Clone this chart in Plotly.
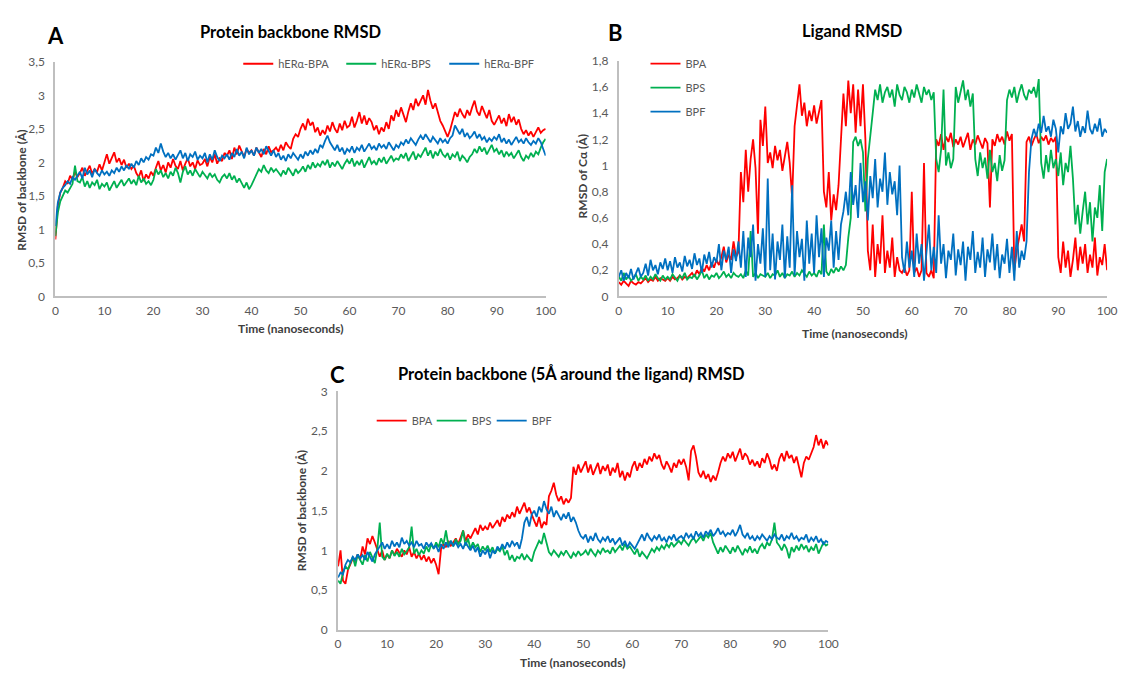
import plotly.graph_objects as go

W, H = 1126, 678

# ---------------- data (RMSD in Å, sampled every 0.5 ns, 0..100 ns) ----------------
time_step_ns = 0.5

# Panel A : Protein backbone RMSD
a_bpa = [
    0.85, 1.35, 1.55, 1.62, 1.72, 1.68, 1.80, 1.74, 1.86, 1.78,
    1.84, 1.92, 1.80, 1.88, 1.95, 1.83, 1.90, 1.86, 1.97, 1.88,
    2.02, 2.12, 1.98, 2.08, 2.15, 2.00, 2.06, 1.96, 2.04, 1.92,
    1.98, 1.90, 1.95, 1.84, 1.78, 1.88, 1.72, 1.82, 1.76, 1.86,
    1.80, 1.92, 2.02, 1.88, 1.96, 1.85, 2.00, 1.92, 2.05, 1.95,
    1.90, 2.02, 1.88, 1.98, 2.06, 1.94, 2.00, 1.90, 2.03, 1.96,
    1.98, 2.05, 1.94, 2.08, 2.00, 2.12, 1.98, 2.06, 2.02, 2.14,
    2.10, 2.18, 2.05, 2.22, 2.12, 2.25, 2.15, 2.08, 2.20, 2.14,
    2.18, 2.10, 2.22, 2.14, 2.08, 2.20, 2.12, 2.24, 2.15, 2.18,
    2.22, 2.16, 2.26, 2.18, 2.30, 2.24, 2.20, 2.35, 2.42, 2.38,
    2.50, 2.58, 2.48, 2.65, 2.55, 2.60, 2.45, 2.52, 2.40, 2.48,
    2.42, 2.55, 2.46, 2.60, 2.50, 2.44, 2.58, 2.48, 2.62, 2.52,
    2.55, 2.68, 2.52, 2.62, 2.75, 2.58, 2.70, 2.56, 2.66, 2.60,
    2.48, 2.55, 2.42, 2.52, 2.46, 2.60, 2.50, 2.70, 2.62, 2.78,
    2.68, 2.82, 2.72, 2.60, 2.76, 2.88, 2.78, 2.95, 2.84, 2.92,
    3.00, 2.86, 3.08, 2.92, 2.80, 2.88, 2.74, 2.62, 2.55, 2.45,
    2.38, 2.48, 2.62, 2.75, 2.68, 2.80, 2.72, 2.66, 2.78, 2.70,
    2.82, 2.92, 2.76, 2.70, 2.84, 2.74, 2.66, 2.78, 2.62, 2.56,
    2.62, 2.70, 2.58, 2.66, 2.54, 2.72, 2.60, 2.68, 2.56, 2.64,
    2.50, 2.42, 2.48, 2.40, 2.46, 2.38, 2.45, 2.52, 2.44, 2.48,
    2.50,
]
a_bps = [
    0.90, 1.25, 1.42, 1.50, 1.58, 1.55, 1.62, 1.68, 1.95, 1.72,
    1.70, 1.78, 1.64, 1.72, 1.62, 1.70, 1.66, 1.74, 1.60, 1.68,
    1.64, 1.70, 1.58, 1.66, 1.72, 1.62, 1.68, 1.74, 1.65, 1.70,
    1.76, 1.68, 1.74, 1.66, 1.80, 1.70, 1.76, 1.68, 1.72, 1.66,
    1.74, 1.90, 1.82, 1.88, 1.78, 1.84, 1.76, 1.86, 1.80, 1.92,
    1.84, 1.70, 1.86, 1.94, 1.82, 1.88, 1.80, 1.90, 1.84, 1.78,
    1.86, 1.80, 1.76, 1.84, 1.78, 1.82, 1.74, 1.70, 1.78, 1.82,
    1.76, 1.84, 1.74, 1.80, 1.70, 1.76, 1.68, 1.62, 1.70, 1.60,
    1.66, 1.74, 1.82, 1.90, 1.86, 1.96, 1.88, 1.84, 1.92, 1.86,
    1.90, 1.84, 1.80, 1.88, 1.82, 1.92, 1.86, 1.80, 1.90, 1.84,
    1.88, 1.94, 1.86, 1.96, 1.90, 2.00, 1.92, 1.98, 1.94, 2.02,
    1.96, 2.04, 1.92, 2.00, 1.94, 2.02, 1.96, 1.90, 1.98, 2.04,
    1.98, 2.06, 1.94, 2.02, 1.96, 2.04, 1.92, 2.00, 2.08, 1.98,
    2.02, 1.96, 2.06, 2.00, 2.08, 1.98, 2.04, 2.10, 2.02, 2.06,
    2.04, 2.12, 2.06, 2.14, 2.02, 2.10, 2.16, 2.04, 2.12, 2.08,
    2.14, 2.22, 2.10, 2.18, 2.06, 2.16, 2.10, 2.20, 2.12, 2.08,
    2.14, 2.04, 2.12, 2.08, 2.16, 2.02, 2.10, 2.06, 2.00, 2.08,
    2.12, 2.20, 2.14, 2.24, 2.16, 2.22, 2.12, 2.18, 2.26, 2.16,
    2.20, 2.12, 2.18, 2.08, 2.16, 2.10, 2.14, 2.06, 2.12, 2.18,
    2.08, 2.02, 2.10, 2.06, 2.14, 2.08, 2.16, 2.12, 2.22, 2.30,
    2.35,
]
a_bpf = [
    1.05, 1.40, 1.55, 1.62, 1.66, 1.72, 1.68, 1.78, 1.74, 1.80,
    1.86, 1.76, 1.92, 1.82, 1.88, 1.78, 1.90, 1.84, 1.80, 1.88,
    1.82, 1.86, 1.80, 1.88, 1.84, 1.92, 1.86, 1.94, 1.88, 1.96,
    1.90, 1.98, 1.92, 2.02, 1.96, 2.06, 2.00, 2.08, 2.04, 2.12,
    2.10, 2.22, 2.14, 2.28, 2.16, 2.08, 2.14, 2.06, 2.12, 2.04,
    2.10, 2.18, 2.06, 2.14, 2.02, 2.12, 2.08, 2.16, 2.04, 2.10,
    2.06, 2.14, 2.00, 2.12, 2.04, 2.18, 2.08, 2.02, 2.10, 2.06,
    2.12, 2.04, 2.14, 2.08, 2.20, 2.10, 2.16, 2.06, 2.22, 2.12,
    2.18, 2.10, 2.22, 2.14, 2.20, 2.12, 2.24, 2.16, 2.10, 2.18,
    2.08, 2.14, 2.04, 2.10, 2.02, 2.12, 2.06, 2.14, 2.08, 2.04,
    2.12, 2.06, 2.16, 2.10, 2.18, 2.12, 2.20, 2.14, 2.26, 2.22,
    2.32, 2.40, 2.30, 2.24, 2.18, 2.26, 2.16, 2.22, 2.12, 2.20,
    2.16, 2.24, 2.14, 2.22, 2.18, 2.26, 2.16, 2.22, 2.28, 2.20,
    2.24, 2.18, 2.28, 2.22, 2.26, 2.20, 2.30, 2.24, 2.18, 2.26,
    2.22, 2.30, 2.26, 2.34, 2.28, 2.36, 2.30, 2.26, 2.34, 2.40,
    2.34, 2.42, 2.36, 2.30, 2.38, 2.32, 2.28, 2.36, 2.30, 2.34,
    2.28, 2.36, 2.40, 2.55, 2.48, 2.42, 2.50, 2.38, 2.44, 2.36,
    2.40, 2.46, 2.36, 2.42, 2.34, 2.38, 2.30, 2.36, 2.32, 2.38,
    2.34, 2.42, 2.30, 2.36, 2.28, 2.34, 2.26, 2.32, 2.38, 2.30,
    2.34, 2.28, 2.36, 2.30, 2.26, 2.32, 2.28, 2.36, 2.30, 2.20,
    2.10,
]

# Panel B : Ligand RMSD
b_bpa = [
    0.11, 0.09, 0.12, 0.10, 0.08, 0.12, 0.10, 0.09, 0.11, 0.10,
    0.12, 0.14, 0.11, 0.13, 0.12, 0.15, 0.12, 0.14, 0.13, 0.12,
    0.14, 0.12, 0.15, 0.13, 0.14, 0.16, 0.13, 0.15, 0.14, 0.16,
    0.18, 0.15, 0.20, 0.17, 0.22, 0.19, 0.24, 0.20, 0.26, 0.22,
    0.28, 0.24, 0.30, 0.38, 0.26, 0.32, 0.28, 0.42, 0.30, 0.34,
    0.95, 0.72, 1.12, 0.80, 1.05, 1.20, 0.98, 0.48, 1.35, 1.15,
    1.45, 1.02, 1.10, 0.98, 1.15, 1.04, 1.12, 0.96, 1.08, 1.18,
    1.02, 0.75, 1.30, 1.45, 1.62, 1.38, 1.48, 1.30, 1.42, 1.34,
    1.46, 1.32, 1.40, 1.50, 0.80, 0.68, 0.95, 0.58, 0.78, 0.66,
    0.85, 1.20, 1.55, 1.30, 1.65, 1.40, 1.62, 1.25, 1.58, 1.30,
    1.62, 1.20, 0.35, 0.20, 0.55, 0.15, 0.40, 0.25, 0.62, 0.18,
    0.35, 0.22, 0.45, 0.15, 0.30, 0.20, 0.18, 0.22, 0.16, 0.20,
    0.80, 0.18, 0.22, 0.15, 0.20, 1.02, 0.18, 0.15, 0.20, 0.14,
    1.20, 1.15, 1.24, 1.12, 1.22, 1.18, 1.25, 1.14, 1.20, 1.16,
    1.22, 1.14, 1.19, 1.25, 1.12, 1.20, 1.16, 1.23, 1.18, 1.13,
    1.21, 1.17, 0.68, 1.20, 1.15, 1.24, 1.18, 1.22, 1.16, 1.26,
    1.19, 1.24, 0.20, 0.35, 0.45, 0.55, 0.42, 1.18, 1.22, 1.15,
    1.20, 1.24, 1.17, 1.22, 1.19, 1.23, 1.16, 1.21, 1.18, 1.22,
    0.30, 0.18, 0.42, 0.22, 0.35, 0.15, 0.28, 0.45, 0.20, 0.38,
    0.25, 0.40, 0.18, 0.32, 0.22, 0.45, 0.16, 0.30, 0.24, 0.40,
    0.20,
]
b_bps = [
    0.15, 0.12, 0.18, 0.13, 0.16, 0.12, 0.14, 0.17, 0.12, 0.15,
    0.13, 0.16, 0.12, 0.15, 0.13, 0.17, 0.14, 0.12, 0.16, 0.13,
    0.15, 0.13, 0.17, 0.14, 0.12, 0.16, 0.14, 0.18, 0.13, 0.15,
    0.14, 0.17, 0.13, 0.16, 0.20, 0.14, 0.17, 0.13, 0.16, 0.15,
    0.18, 0.14, 0.16, 0.19, 0.15, 0.17, 0.14, 0.18, 0.16, 0.15,
    0.17, 0.14, 0.20, 0.16, 0.50, 0.15, 0.18, 0.14, 0.17, 0.16,
    0.15, 0.18, 0.14, 0.17, 0.16, 0.20, 0.15, 0.18, 0.14, 0.17,
    0.16, 0.19, 0.15, 0.18, 0.16, 0.20, 0.17, 0.15, 0.19, 0.16,
    0.18, 0.15, 0.20, 0.17, 0.55, 0.19, 0.16, 0.21, 0.18, 0.22,
    0.19, 0.23, 0.20, 0.24, 0.45, 0.60, 1.18, 1.22, 1.15, 1.20,
    1.10, 0.65, 1.05, 1.25, 1.40, 1.58, 1.50, 1.62, 1.48, 1.56,
    1.60, 1.52, 1.58, 1.45, 1.62, 1.54, 1.50, 1.60, 1.56, 1.48,
    1.58, 1.52, 1.62, 1.55, 1.48, 1.60, 1.54, 1.58, 1.50, 1.56,
    1.05, 0.95, 1.12, 1.58, 1.00, 1.10, 0.98, 1.05, 1.60, 1.48,
    1.56, 1.65, 1.50, 1.58, 1.45, 1.55, 1.05, 0.92, 1.10, 0.98,
    1.06, 0.90, 1.12, 0.95, 1.02, 0.88, 1.08, 0.96, 1.04, 1.50,
    1.58, 1.52, 1.60, 1.48, 1.56, 1.62, 1.54, 1.50, 1.58, 1.55,
    1.60, 1.52, 1.66, 1.02, 0.90, 1.08, 0.95, 1.12, 0.98, 1.05,
    0.92, 1.10, 0.85, 1.02, 0.95, 1.15, 0.90, 0.55, 0.70, 0.48,
    0.65, 0.80, 0.55, 0.72, 0.42, 0.68, 0.60, 0.85, 0.50, 0.95,
    1.05,
]
b_bpf = [
    0.15, 0.20, 0.12, 0.18, 0.14, 0.21, 0.13, 0.17, 0.22, 0.15,
    0.18, 0.25, 0.16, 0.28, 0.20, 0.24, 0.17, 0.26, 0.21, 0.29,
    0.20, 0.27, 0.18, 0.30, 0.22, 0.26, 0.19, 0.31, 0.23, 0.28,
    0.21, 0.33, 0.24, 0.29, 0.18, 0.32, 0.25, 0.34, 0.22, 0.30,
    0.26, 0.40, 0.20, 0.35, 0.28, 0.38, 0.18, 0.36, 0.27, 0.42,
    0.22, 0.50, 0.15, 0.45, 0.30, 0.55, 0.12, 0.40, 0.25, 0.52,
    0.15, 0.90, 0.20, 0.48, 0.13, 0.42, 0.28, 0.55, 0.14, 0.46,
    0.22, 0.85, 0.16, 0.50, 0.30, 0.44, 0.12, 0.58, 0.25, 0.48,
    0.18, 0.62, 0.30, 0.52, 0.15, 0.45, 0.35, 0.58, 0.22, 0.50,
    0.28, 0.55, 0.65, 0.80, 0.62, 0.95, 0.70, 0.85, 0.60, 1.02,
    0.72, 0.88, 0.58, 0.92, 0.75, 1.05, 0.68, 0.90, 0.80, 1.10,
    0.70, 0.95, 0.78, 0.88, 0.62, 1.00, 0.30, 0.18, 0.42, 0.22,
    0.35, 0.15, 0.48, 0.25, 0.40, 0.12, 0.32, 0.55, 0.20, 0.38,
    0.18, 0.62, 0.25, 0.40, 0.14, 0.35, 0.28, 0.48, 0.16, 0.36,
    0.24, 0.42, 0.12, 0.38, 0.28, 0.50, 0.18, 0.34, 0.22, 0.45,
    0.15, 0.36, 0.26, 0.48, 0.20, 0.40, 0.14, 0.32, 0.25, 0.44,
    0.18, 0.38, 0.12, 0.50, 0.22, 0.35, 0.28, 0.42, 0.95, 1.20,
    1.28, 1.22, 1.32, 1.25, 1.38, 1.26, 1.30, 1.22, 1.35, 1.28,
    1.10, 1.30, 1.24, 1.40, 1.28, 1.32, 1.45, 1.26, 1.34, 1.22,
    1.30, 1.25, 1.42, 1.28, 1.24, 1.32, 1.26, 1.36, 1.22, 1.28,
    1.25,
]

# Panel C : Protein backbone (5 Å around the ligand) RMSD
c_bpa = [
    0.80, 1.00, 0.62, 0.58, 0.75, 0.82, 0.90, 0.86, 0.95, 0.88,
    1.05, 0.95, 1.15, 1.08, 1.18, 1.10, 1.02, 0.92, 1.00, 0.88,
    0.95, 0.90, 1.00, 0.94, 1.02, 0.96, 0.92, 1.00, 0.95, 1.04,
    0.92, 0.98, 0.90, 0.96, 0.88, 0.94, 0.86, 0.92, 0.84, 0.90,
    0.82, 0.70, 1.02, 1.08, 1.04, 1.12, 1.06, 1.10, 1.15, 1.08,
    1.18, 1.25, 1.12, 1.20, 1.15, 1.22, 1.28, 1.20, 1.32, 1.25,
    1.30, 1.26, 1.35, 1.28, 1.33, 1.38, 1.30, 1.42, 1.36, 1.45,
    1.40, 1.48, 1.42, 1.55, 1.46, 1.52, 1.60, 1.48, 1.54, 1.45,
    1.38, 1.30, 1.42, 1.28, 1.36, 1.32, 1.68, 1.75, 1.85, 1.70,
    1.62, 1.68, 1.58, 1.65, 1.60, 1.66, 2.05, 1.95, 2.08, 1.98,
    2.05, 2.12, 1.98, 2.08, 1.95, 2.02, 2.10, 1.96, 2.06, 2.00,
    2.08, 1.94, 2.04, 1.98, 2.10, 1.92, 2.00, 1.88, 1.98, 1.92,
    2.05, 2.12, 2.00, 2.10, 2.04, 2.15, 2.08, 2.18, 2.12, 2.22,
    2.15, 2.20, 2.08, 2.02, 2.12, 2.06, 1.98, 2.10, 2.04, 2.14,
    2.08, 2.15, 2.05, 1.88, 2.25, 2.32, 2.18, 1.98, 1.92, 2.00,
    1.90, 1.96, 1.86, 1.94, 1.88, 1.98, 2.10, 2.18, 2.12, 2.22,
    2.16, 2.24, 2.12, 2.20, 2.28, 2.14, 2.22, 2.18, 2.08, 2.14,
    2.06, 2.12, 2.04, 2.16, 2.10, 2.22, 2.14, 2.02, 2.08, 2.00,
    2.15, 2.22, 2.12, 2.25, 2.16, 2.20, 2.10, 2.18, 2.05, 1.92,
    2.10, 2.18, 2.14, 2.22, 2.30, 2.45, 2.32, 2.40, 2.28, 2.38,
    2.32,
]
c_bps = [
    0.62, 0.58, 0.72, 0.80, 0.76, 0.85, 0.92, 0.80, 0.95, 0.88,
    0.82, 0.94, 0.86, 0.98, 0.90, 0.84, 1.02, 1.35, 0.92, 0.88,
    0.96, 0.90, 1.00, 0.93, 0.98, 0.92, 1.02, 0.95, 0.99, 1.04,
    1.30, 0.96, 1.02, 0.94, 1.00, 0.96, 1.05, 0.98, 1.08, 1.02,
    1.10, 1.04, 1.15, 1.08, 1.25, 1.06, 1.12, 1.05, 1.14, 1.08,
    1.12, 1.25, 1.06, 1.15, 1.02, 1.10, 1.04, 1.08, 0.98, 1.05,
    1.00, 1.06, 0.98, 1.04, 0.96, 1.02, 0.99, 1.05, 0.94, 1.00,
    0.88, 0.94, 0.86, 0.92, 0.90, 0.96, 0.88, 0.94, 0.90, 0.86,
    0.98, 1.05, 1.12, 1.08, 1.22, 1.10, 0.98, 0.94, 1.00, 0.96,
    0.92, 0.98, 0.94, 1.00, 0.95, 0.90, 0.97, 0.93, 0.99, 0.94,
    0.96, 1.00, 0.94, 1.02, 0.97, 0.93, 1.00, 0.96, 1.03, 0.98,
    1.00, 0.96, 1.04, 0.98, 1.02, 1.06, 1.00, 1.08, 1.02, 1.05,
    1.00, 0.95, 1.02, 0.92, 0.98, 0.94, 0.90, 0.96, 1.02, 0.98,
    1.04, 1.00, 1.06, 1.02, 1.08, 1.04, 1.10, 1.05, 1.08, 1.12,
    1.08, 1.14, 1.10, 1.06, 1.12, 1.16, 1.10, 1.14, 1.18, 1.12,
    1.20, 1.16, 1.22, 1.10, 1.02, 0.96, 1.04, 0.98, 1.06, 1.00,
    0.96, 1.04, 0.98, 1.06, 1.00, 0.94, 1.02, 0.98, 1.05, 0.97,
    1.02, 0.96, 1.04, 1.08, 1.02, 1.10, 1.06, 1.14, 1.35, 1.10,
    1.06, 1.00, 1.08, 1.02, 0.90, 1.04, 0.98, 1.06, 1.00, 1.08,
    1.02, 1.06, 0.98, 1.04, 1.00, 1.08, 0.96, 1.04, 1.10, 1.06,
    1.08,
]
c_bpf = [
    0.66, 0.72, 0.70, 0.82, 0.88, 0.85, 0.92, 0.88, 0.95, 0.90,
    0.94, 0.88, 0.98, 0.92, 0.86, 0.95, 1.00, 1.06, 1.10, 1.02,
    1.08, 1.02, 1.12, 1.05, 1.10, 1.04, 1.16, 1.08, 1.12, 1.06,
    1.10, 1.04, 1.12, 1.06, 1.08, 1.02, 1.10, 1.05, 1.09, 1.03,
    1.06, 0.98, 1.08, 1.02, 1.10, 1.04, 1.12, 1.06, 1.10, 1.04,
    1.08, 1.02, 1.10, 1.05, 1.00, 1.06, 0.98, 1.04, 0.92, 1.00,
    0.95, 1.02, 0.90, 1.00, 0.96, 1.05, 1.00, 1.08, 1.02, 1.10,
    1.04, 1.12, 1.06, 1.10, 1.02, 1.15, 1.35, 1.42, 1.30, 1.45,
    1.50, 1.42, 1.55, 1.48, 1.62, 1.52, 1.46, 1.55, 1.42, 1.50,
    1.44, 1.38, 1.46, 1.40, 1.48, 1.36, 1.42, 1.35, 1.25, 1.18,
    1.15, 1.20, 1.10, 1.18, 1.12, 1.22, 1.14, 1.10, 1.16, 1.12,
    1.18, 1.10, 1.15, 1.08, 1.12, 1.16, 1.06, 1.12, 1.04, 1.10,
    1.06, 1.02, 1.08, 1.14, 1.20, 1.12, 1.22, 1.16, 1.12, 1.18,
    1.14, 1.20, 1.12, 1.16, 1.10, 1.18, 1.14, 1.20, 1.12, 1.16,
    1.18, 1.14, 1.22, 1.16, 1.20, 1.14, 1.24, 1.18, 1.22, 1.16,
    1.24, 1.20, 1.26, 1.18, 1.22, 1.28, 1.20, 1.24, 1.18, 1.22,
    1.20, 1.26, 1.18, 1.24, 1.32, 1.20, 1.16, 1.22, 1.14, 1.18,
    1.12, 1.18, 1.14, 1.20, 1.16, 1.12, 1.18, 1.14, 1.20, 1.16,
    1.14, 1.20, 1.12, 1.18, 1.15, 1.22, 1.14, 1.18, 1.12, 1.16,
    1.14, 1.20, 1.10, 1.16, 1.12, 1.18, 1.10, 1.14, 1.08, 1.12,
    1.10,
]

# tick values / labels (comma decimal as in the original)
x_ticks = [0, 10, 20, 30, 40, 50, 60, 70, 80, 90, 100]
a_yticks = [0, 0.5, 1, 1.5, 2, 2.5, 3, 3.5]
a_ylabels = ["0", "0,5", "1", "1,5", "2", "2,5", "3", "3,5"]
b_yticks = [0, 0.2, 0.4, 0.6, 0.8, 1.0, 1.2, 1.4, 1.6, 1.8]
b_ylabels = ["0", "0,2", "0,4", "0,6", "0,8", "1", "1,2", "1,4", "1,6", "1,8"]
c_yticks = [0, 0.5, 1, 1.5, 2, 2.5, 3]
c_ylabels = ["0", "0,5", "1", "1,5", "2", "2,5", "3"]

a_names = ["hERα-BPA", "hERα-BPS", "hERα-BPF"]
bc_names = ["BPA", "BPS", "BPF"]
colors = ["#ff0000", "#00b050", "#0070c0"]

# ---------------- helpers ----------------
def px(x):
    return x / W

def py(y):
    return 1 - y / H

def times(vals):
    return [i * time_step_ns for i in range(len(vals))]

FONT = "Lato"
TICK_COLOR = "#595959"
AXIS_LINE = "#bfbfbf"

fig = go.Figure()

panels = [
    ("x", "y", [a_bpa, a_bps, a_bpf], a_names, "legend"),
    ("x2", "y2", [b_bpa, b_bps, b_bpf], bc_names, "legend2"),
    ("x3", "y3", [c_bpa, c_bps, c_bpf], bc_names, "legend3"),
]
for xa, ya, series, names, leg in panels:
    for i, (vals, name, col) in enumerate(zip(series, names, colors)):
        fig.add_trace(go.Scatter(
            x=times(vals), y=vals, mode="lines", name=name,
            line=dict(color=col, width=1.8),
            xaxis=xa, yaxis=ya, legend=leg,
            legendgroup=f"{leg}_{i}",
        ))

def xaxis(domain, anchor):
    return dict(domain=domain, anchor=anchor, range=[0, 100], tickvals=x_ticks,
                showgrid=False, zeroline=False, showline=True, linecolor=AXIS_LINE,
                linewidth=2, ticks="", ticklabelstandoff=2,
                tickfont=dict(family=FONT, size=12, color=TICK_COLOR), fixedrange=True)

def yaxis(domain, anchor, rng, tv, tt):
    return dict(domain=domain, anchor=anchor, range=rng, tickvals=tv, ticktext=tt,
                showgrid=False, zeroline=False, showline=True, linecolor=AXIS_LINE,
                linewidth=2, ticks="", ticklabelstandoff=6,
                tickfont=dict(family=FONT, size=12, color=TICK_COLOR), fixedrange=True)

legend_common = dict(bgcolor="rgba(0,0,0,0)", font=dict(family=FONT, size=11, color=TICK_COLOR),
                     itemwidth=30, borderwidth=0)

fig.update_layout(
    width=W, height=H,
    margin=dict(l=0, r=0, t=0, b=0),
    paper_bgcolor="white", plot_bgcolor="white",
    showlegend=True,
    xaxis=xaxis([px(53), px(549)], "y"),
    yaxis=yaxis([py(295), py(55)], "x", [0, 3.5], a_yticks, a_ylabels),
    xaxis2=xaxis([px(623), px(1117)], "y2"),
    yaxis2=yaxis([py(295), py(54)], "x2", [0, 1.8], b_yticks, b_ylabels),
    xaxis3=xaxis([px(339), px(835)], "y3"),
    yaxis3=yaxis([py(636), py(392)], "x3", [0, 3], c_yticks, c_ylabels),
    legend=dict(orientation="h", x=px(238), y=py(57), xanchor="left", yanchor="middle",
                entrywidth=58, entrywidthmode="pixels", **legend_common),
    legend2=dict(orientation="v", x=px(650), y=py(42), xanchor="left", yanchor="top",
                 tracegroupgap=5, **legend_common),
    legend3=dict(orientation="h", x=px(373), y=py(422), xanchor="left", yanchor="middle",
                 entrywidth=15, entrywidthmode="pixels", **legend_common),
)

def ann(text, x, y, size, bold=True, color="#000000", angle=0, anchor="center"):
    fig.add_annotation(
        text=f"<b>{text}</b>" if bold else text,
        x=px(x), y=py(y), xref="paper", yref="paper",
        xanchor=anchor, yanchor="middle", showarrow=False, textangle=angle,
        font=dict(family=FONT, size=size, color=color),
    )

# panel letters
ann("A", 53, 28, 22)
ann("B", 620, 25, 22)
ann("C", 338, 375, 22)
# titles
ann("Protein backbone RMSD", 291, 25, 16.5)
ann("Ligand RMSD", 859, 24, 16.5)
ann("Protein backbone (5Å around the ligand) RMSD", 575, 374, 16.5)
# axis titles
ann("Time (nanoseconds)", 291, 328, 12, color="#404040")
ann("Time (nanoseconds)", 861, 333, 12, color="#404040")
ann("Time (nanoseconds)", 576, 669, 12, color="#404040")
ann("RMSD of backbone (Å)", 19, 186, 12, color="#404040", angle=-90)
ann("RMSD of Cα (Å)", 586, 172, 12, color="#404040", angle=-90)
ann("RMSD of backbone (Å)", 302, 514, 12, color="#404040", angle=-90)

fig.write_html(
    "out.html",
    config={"displayModeBar": False},
    post_script="document.body.style.margin='0';document.body.style.overflow='hidden';",
)
